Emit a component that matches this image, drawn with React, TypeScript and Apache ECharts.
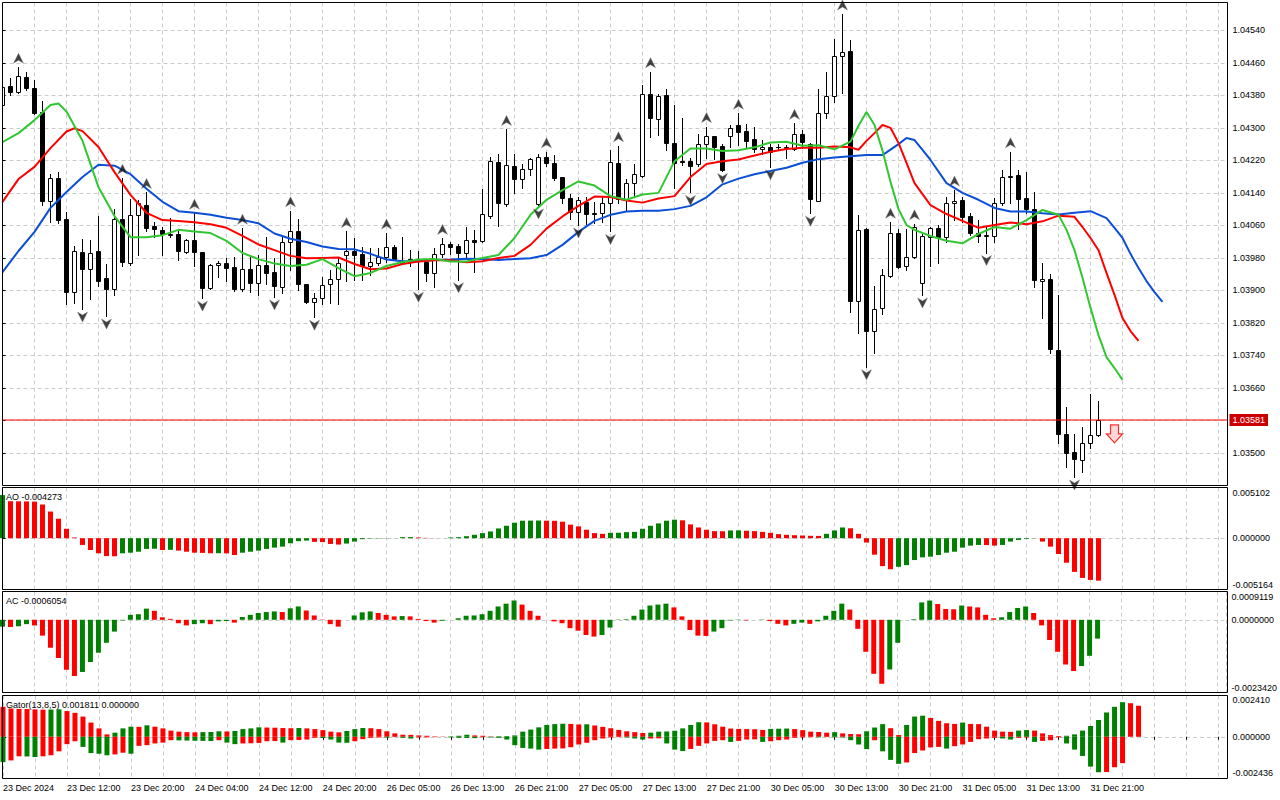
import React, { useEffect, useRef } from 'react';
import * as echarts from 'echarts';

const FONT = '"Liberation Sans", Arial, Helvetica, sans-serif';
const GREEN = '#008000';
const RED = '#ff0000';
const GRID_COLOR = '#cccccc';
const GRID_DASH = [4, 3];

// ---- x axis labels (every 8 hourly bars) ----
const tickLabels = [
  '23 Dec 2024', '23 Dec 12:00', '23 Dec 20:00', '24 Dec 04:00', '24 Dec 12:00', '24 Dec 20:00',
  '26 Dec 05:00', '26 Dec 13:00', '26 Dec 21:00', '27 Dec 05:00', '27 Dec 13:00', '27 Dec 21:00',
  '30 Dec 05:00', '30 Dec 13:00', '30 Dec 21:00', '31 Dec 05:00', '31 Dec 13:00', '31 Dec 21:00',
];

// ---- candles ----
const opens = [
  1.04356, 1.04403, 1.04389, 1.04426, 1.04397, 1.04340, 1.04121, 1.04176, 1.04075, 1.03895,
  1.03995, 1.03952, 1.03997, 1.03930, 1.03903, 1.04075, 1.03968, 1.04086, 1.04110, 1.04059,
  1.04049, 1.04036, 1.04039, 1.03995, 1.04024, 1.03995, 1.03905, 1.03962, 1.03967, 1.03957,
  1.03903, 1.03952, 1.03918, 1.03962, 1.03945, 1.03908, 1.04020, 1.04045, 1.03915, 1.03872,
  1.03881, 1.03915, 1.03927, 1.03986, 1.03998, 1.03990, 1.03961, 1.03968, 1.03983, 1.04008,
  1.03973, 1.03977, 1.03974, 1.03971, 1.03944, 1.03989, 1.04014, 1.04009, 1.03993, 1.04024,
  1.04022, 1.04083, 1.04217, 1.04112, 1.04206, 1.04173, 1.04198, 1.04112, 1.04228, 1.04213,
  1.04178, 1.04127, 1.04092, 1.04118, 1.04091, 1.04090, 1.04114, 1.04213, 1.04125, 1.04164,
  1.04182, 1.04383, 1.04321, 1.04380, 1.04262, 1.04218, 1.04218, 1.04210, 1.04260, 1.04280,
  1.04256, 1.04281, 1.04307, 1.04292, 1.04272, 1.04248, 1.04254, 1.04254, 1.04250, 1.04248,
  1.04284, 1.04260, 1.04121, 1.04336, 1.04379, 1.04477, 1.04489, 1.03875, 1.04051, 1.03801,
  1.03856, 1.03936, 1.04041, 1.03961, 1.03983, 1.03918, 1.04031, 1.04053, 1.04031, 1.04114,
  1.04123, 1.04083, 1.04041, 1.04034, 1.04035, 1.04116, 1.04178, 1.04184, 1.04127, 1.04100,
  1.03923, 1.03927, 1.03754, 1.03546, 1.03502, 1.03483, 1.03524, 1.03544,
];
const highs = [
  1.04410, 1.04422, 1.04449, 1.04438, 1.04418, 1.04366, 1.04186, 1.04192, 1.04094, 1.04009,
  1.04026, 1.04024, 1.04083, 1.03965, 1.04100, 1.04176, 1.04124, 1.04122, 1.04141, 1.04069,
  1.04057, 1.04077, 1.04045, 1.04026, 1.04090, 1.03995, 1.03965, 1.03973, 1.03979, 1.03982,
  1.04053, 1.03983, 1.03987, 1.04031, 1.03979, 1.04031, 1.04096, 1.04076, 1.03916, 1.03893,
  1.03934, 1.03950, 1.03983, 1.04045, 1.04028, 1.04008, 1.04004, 1.04004, 1.04041, 1.04012,
  1.04032, 1.03999, 1.03998, 1.03977, 1.04004, 1.04028, 1.04020, 1.04014, 1.04057, 1.04049,
  1.04149, 1.04228, 1.04235, 1.04296, 1.04235, 1.04210, 1.04225, 1.04235, 1.04241, 1.04233,
  1.04178, 1.04137, 1.04131, 1.04131, 1.04118, 1.04131, 1.04246, 1.04256, 1.04174, 1.04211,
  1.04405, 1.04438, 1.04383, 1.04395, 1.04356, 1.04323, 1.04225, 1.04284, 1.04303, 1.04280,
  1.04260, 1.04307, 1.04336, 1.04309, 1.04303, 1.04270, 1.04260, 1.04260, 1.04258, 1.04311,
  1.04295, 1.04262, 1.04395, 1.04438, 1.04518, 1.04580, 1.04516, 1.04086, 1.04053, 1.03911,
  1.03952, 1.04068, 1.04050, 1.04050, 1.04064, 1.04038, 1.04057, 1.04061, 1.04131, 1.04147,
  1.04131, 1.04091, 1.04073, 1.04057, 1.04127, 1.04196, 1.04241, 1.04196, 1.04192, 1.04141,
  1.03968, 1.03940, 1.03889, 1.03613, 1.03547, 1.03563, 1.03645, 1.03628,
];
const lows = [
  1.04349, 1.04381, 1.04385, 1.04393, 1.04334, 1.04109, 1.04069, 1.04067, 1.03867, 1.03870,
  1.03854, 1.03878, 1.03911, 1.03837, 1.03889, 1.03960, 1.03963, 1.03987, 1.04045, 1.04032,
  1.03987, 1.04031, 1.03975, 1.03991, 1.03960, 1.03881, 1.03903, 1.03934, 1.03922, 1.03899,
  1.03899, 1.03897, 1.03889, 1.03916, 1.03884, 1.03894, 1.03950, 1.03901, 1.03870, 1.03834,
  1.03866, 1.03870, 1.03866, 1.03922, 1.03926, 1.03926, 1.03938, 1.03963, 1.03969, 1.03975,
  1.03966, 1.03960, 1.03903, 1.03922, 1.03909, 1.03983, 1.03989, 1.03926, 1.03979, 1.03946,
  1.04020, 1.04077, 1.04059, 1.04108, 1.04139, 1.04151, 1.04184, 1.04108, 1.04206, 1.04172,
  1.04116, 1.04075, 1.04061, 1.04064, 1.04067, 1.04069, 1.04045, 1.04116, 1.04098, 1.04131,
  1.04180, 1.04278, 1.04282, 1.04246, 1.04151, 1.04209, 1.04141, 1.04206, 1.04225, 1.04223,
  1.04195, 1.04254, 1.04258, 1.04254, 1.04241, 1.04235, 1.04204, 1.04246, 1.04225, 1.04246,
  1.04250, 1.04090, 1.04121, 1.04323, 1.04364, 1.04386, 1.03848, 1.03795, 1.03712, 1.03745,
  1.03842, 1.03934, 1.03954, 1.03949, 1.03979, 1.03889, 1.03960, 1.03967, 1.04020, 1.04073,
  1.04069, 1.04036, 1.04020, 1.03993, 1.04020, 1.04110, 1.04114, 1.04050, 1.04090, 1.03909,
  1.03832, 1.03747, 1.03524, 1.03466, 1.03441, 1.03453, 1.03513, 1.03542,
];
const closes = [
  1.04401, 1.04389, 1.04428, 1.04397, 1.04336, 1.04120, 1.04176, 1.04073, 1.03895, 1.03997,
  1.03952, 1.03991, 1.03924, 1.03904, 1.04075, 1.03971, 1.04086, 1.04114, 1.04054, 1.04052,
  1.04039, 1.04039, 1.03998, 1.04024, 1.03994, 1.03905, 1.03962, 1.03967, 1.03956, 1.03903,
  1.03952, 1.03918, 1.03962, 1.03944, 1.03911, 1.04020, 1.04045, 1.03915, 1.03872, 1.03882,
  1.03913, 1.03927, 1.03967, 1.03998, 1.03987, 1.03960, 1.03969, 1.03983, 1.04008, 1.03977,
  1.03967, 1.03973, 1.03976, 1.03944, 1.03989, 1.04014, 1.04008, 1.03993, 1.04024, 1.04020,
  1.04087, 1.04218, 1.04116, 1.04209, 1.04173, 1.04198, 1.04223, 1.04228, 1.04213, 1.04177,
  1.04127, 1.04094, 1.04122, 1.04087, 1.04087, 1.04114, 1.04215, 1.04125, 1.04164, 1.04187,
  1.04383, 1.04323, 1.04379, 1.04262, 1.04213, 1.04215, 1.04207, 1.04260, 1.04280, 1.04254,
  1.04196, 1.04299, 1.04291, 1.04268, 1.04248, 1.04254, 1.04241, 1.04252, 1.04254, 1.04284,
  1.04264, 1.04124, 1.04336, 1.04379, 1.04477, 1.04487, 1.03875, 1.04049, 1.03799, 1.03854,
  1.03938, 1.04041, 1.03958, 1.03983, 1.04057, 1.04034, 1.04053, 1.04031, 1.04114, 1.04121,
  1.04081, 1.04041, 1.04035, 1.04036, 1.04114, 1.04178, 1.04182, 1.04125, 1.04100, 1.03926,
  1.03927, 1.03755, 1.03546, 1.03499, 1.03485, 1.03524, 1.03544, 1.03581,
];

// ---- Alligator lines: [bar, price] (jaw / teeth / lips, already shifted forward) ----
const jaw: [number, number][] = [
  [0, 1.03945], [2, 1.03997], [4, 1.04044], [6, 1.04103], [8, 1.04142], [10, 1.04179], [12, 1.04209], [14, 1.04207],
  [16, 1.04186], [18, 1.04150], [20, 1.04118], [22, 1.04095], [24, 1.04091], [26, 1.04086], [28, 1.04079], [30, 1.04073],
  [32, 1.04065], [34, 1.04040], [36, 1.04027], [38, 1.04019], [40, 1.04008], [42, 1.04002], [44, 1.04001], [46, 1.03990],
  [48, 1.03976], [50, 1.03972], [52, 1.03972], [54, 1.03975], [56, 1.03976], [58, 1.03978], [60, 1.03977], [62, 1.03975],
  [64, 1.03977], [66, 1.03979], [68, 1.03987], [70, 1.04012], [72, 1.04044], [74, 1.04071], [76, 1.04086], [78, 1.04094],
  [80, 1.04096], [82, 1.04096], [84, 1.04100], [86, 1.04108], [88, 1.04129], [90, 1.04161], [92, 1.04175], [94, 1.04186],
  [96, 1.04194], [98, 1.04202], [100, 1.04214], [102, 1.04223], [104, 1.04227], [106, 1.04230], [108, 1.04233], [110, 1.04233],
  [112, 1.04260], [113, 1.04275], [114, 1.04270], [115, 1.04246], [116, 1.04221], [118, 1.04164], [120, 1.04140], [122, 1.04123],
  [124, 1.04103], [126, 1.04094], [128, 1.04094], [130, 1.04090], [132, 1.04087], [134, 1.04091], [136, 1.04095], [138, 1.04078],
  [139, 1.04054], [140, 1.04029], [141, 1.03990], [142, 1.03955], [143, 1.03923], [144, 1.03896], [145, 1.03872],
];
const teeth: [number, number][] = [
  [0, 1.04118], [2, 1.04174], [4, 1.04204], [6, 1.04250], [8, 1.04291], [9, 1.04299], [10, 1.04292], [12, 1.04253],
  [14, 1.04191], [16, 1.04135], [18, 1.04091], [20, 1.04073], [22, 1.04071], [24, 1.04068], [26, 1.04063], [28, 1.04054],
  [30, 1.04034], [32, 1.04013], [34, 1.03999], [36, 1.03985], [38, 1.03979], [40, 1.03980], [42, 1.03981], [44, 1.03965],
  [46, 1.03952], [48, 1.03954], [50, 1.03965], [52, 1.03971], [54, 1.03974], [56, 1.03974], [58, 1.03969], [60, 1.03972],
  [62, 1.03980], [64, 1.03985], [66, 1.04012], [68, 1.04052], [70, 1.04082], [72, 1.04108], [74, 1.04131], [76, 1.04130],
  [78, 1.04121], [80, 1.04116], [82, 1.04126], [84, 1.04132], [86, 1.04179], [88, 1.04211], [90, 1.04218], [92, 1.04222],
  [94, 1.04232], [96, 1.04241], [98, 1.04248], [100, 1.04251], [102, 1.04251], [104, 1.04254], [106, 1.04252], [107, 1.04246],
  [108, 1.04268], [109, 1.04287], [110, 1.04307], [111, 1.04300], [112, 1.04263], [113, 1.04214], [114, 1.04164], [116, 1.04110],
  [118, 1.04088], [120, 1.04071], [122, 1.04054], [124, 1.04061], [126, 1.04067], [128, 1.04063], [130, 1.04070], [132, 1.04084],
  [134, 1.04081], [135, 1.04056], [136, 1.04029], [137, 1.03999], [138, 1.03943], [139, 1.03889], [140, 1.03832], [141, 1.03800],
  [142, 1.03776],
];
const lips: [number, number][] = [
  [0, 1.04265], [2, 1.04287], [4, 1.04319], [6, 1.04356], [7, 1.04360], [8, 1.04340], [10, 1.04268], [12, 1.04154],
  [14, 1.04083], [16, 1.04031], [18, 1.04031], [20, 1.04036], [22, 1.04049], [24, 1.04045], [26, 1.04041], [28, 1.04022],
  [30, 1.03992], [32, 1.03977], [34, 1.03966], [36, 1.03960], [38, 1.03963], [40, 1.03977], [42, 1.03955], [44, 1.03935],
  [46, 1.03943], [48, 1.03960], [50, 1.03970], [52, 1.03976], [54, 1.03977], [56, 1.03971], [58, 1.03971], [60, 1.03980],
  [62, 1.03987], [64, 1.04029], [66, 1.04086], [68, 1.04123], [70, 1.04147], [72, 1.04168], [74, 1.04158], [76, 1.04132],
  [78, 1.04123], [80, 1.04136], [82, 1.04140], [84, 1.04218], [86, 1.04249], [88, 1.04249], [90, 1.04243], [92, 1.04245],
  [94, 1.04252], [96, 1.04264], [98, 1.04266], [100, 1.04256], [102, 1.04257], [104, 1.04247], [106, 1.04266], [107, 1.04305],
  [108, 1.04339], [109, 1.04307], [110, 1.04244], [111, 1.04167], [112, 1.04100], [113, 1.04061], [114, 1.04049], [116, 1.04034],
  [118, 1.04022], [120, 1.04016], [122, 1.04039], [124, 1.04056], [126, 1.04052], [128, 1.04073], [130, 1.04098], [132, 1.04086],
  [133, 1.04049], [134, 1.03999], [135, 1.03931], [136, 1.03857], [137, 1.03790], [138, 1.03736], [139, 1.03709], [140, 1.03680],
];

// ---- Fractals (bar indices) ----
const fractalUpBars = [2, 15, 18, 24, 30, 36, 43, 48, 55, 63, 68, 77, 81, 88, 92, 99, 105, 111, 114, 119, 126];
const fractalDownBars = [10, 13, 25, 34, 39, 52, 57, 67, 72, 76, 86, 90, 96, 101, 108, 115, 123, 134];

// ---- sell signal arrow ----
const sellSignal: [number, number] = [139, 1.03547];

// ---- Awesome Oscillator ----
const aoValues = [
  0.00434, 0.00372, 0.00371, 0.00370, 0.00368, 0.00339, 0.00268, 0.00196, 0.00095, 0.00007,
  -0.00068, -0.00119, -0.00152, -0.00180, -0.00182, -0.00152, -0.00146, -0.00136, -0.00108, -0.00106,
  -0.00119, -0.00117, -0.00125, -0.00136, -0.00146, -0.00148, -0.00152, -0.00151, -0.00153, -0.00169,
  -0.00146, -0.00136, -0.00125, -0.00108, -0.00095, -0.00085, -0.00051, -0.00030, -0.00024, -0.00037,
  -0.00039, -0.00058, -0.00064, -0.00054, -0.00034, -0.00010, -0.00004, -0.00003, -0.00002, 0.00001,
  0.00010, 0.00011, 0.00007, 0.00003, 0.00001, 0.00000, 0.00007, 0.00010, 0.00020, 0.00034,
  0.00051, 0.00068, 0.00098, 0.00125, 0.00156, 0.00176, 0.00177, 0.00178, 0.00176, 0.00175,
  0.00166, 0.00136, 0.00119, 0.00085, 0.00051, 0.00044, 0.00054, 0.00055, 0.00061, 0.00064,
  0.00095, 0.00125, 0.00149, 0.00176, 0.00186, 0.00180, 0.00139, 0.00108, 0.00085, 0.00071,
  0.00070, 0.00078, 0.00079, 0.00075, 0.00071, 0.00064, 0.00054, 0.00041, 0.00034, 0.00030,
  0.00027, 0.00024, 0.00023, 0.00044, 0.00078, 0.00108, 0.00100, 0.00044, -0.00044, -0.00166,
  -0.00281, -0.00312, -0.00288, -0.00271, -0.00220, -0.00193, -0.00186, -0.00169, -0.00146, -0.00136,
  -0.00095, -0.00075, -0.00068, -0.00069, -0.00075, -0.00068, -0.00034, -0.00017, -0.00007, -0.00002,
  -0.00034, -0.00085, -0.00159, -0.00247, -0.00339, -0.00400, -0.00420, -0.004273,
];

// ---- Accelerator Oscillator ----
const acValues = [
  -0.00022, -0.00023, -0.00021, -0.00014, -0.00018, -0.00051, -0.00090, -0.00123, -0.00161, -0.00181,
  -0.00168, -0.00136, -0.00106, -0.00074, -0.00038, -0.00002, 0.00016, 0.00018, 0.00036, 0.00029,
  0.00008, 0.00003, -0.00011, -0.00018, -0.00014, -0.00011, -0.00014, -0.00005, -0.00004, -0.00009,
  0.00009, 0.00016, 0.00022, 0.00025, 0.00027, 0.00025, 0.00037, 0.00043, 0.00030, 0.00014,
  0.00001, -0.00014, -0.00022, 0.00000, 0.00014, 0.00024, 0.00027, 0.00022, 0.00016, 0.00011,
  0.00012, 0.00011, 0.00003, -0.00004, -0.00009, -0.00003, 0.00000, 0.00005, 0.00013, 0.00014,
  0.00018, 0.00029, 0.00043, 0.00052, 0.00062, 0.00049, 0.00029, 0.00013, 0.00000, -0.00005,
  -0.00011, -0.00027, -0.00035, -0.00049, -0.00054, -0.00049, -0.00025, 0.00001, 0.00002, 0.00013,
  0.00033, 0.00046, 0.00049, 0.00052, 0.00040, 0.00011, -0.00033, -0.00051, -0.00052, -0.00038,
  -0.00027, -0.00002, 0.00001, -0.00002, 0.00000, 0.00001, -0.00004, -0.00013, -0.00018, -0.00013,
  -0.00009, -0.00013, -0.00005, 0.00013, 0.00029, 0.00052, 0.00033, -0.00029, -0.00103, -0.00174,
  -0.00206, -0.00160, -0.00074, 0.00000, 0.00002, 0.00056, 0.00062, 0.00051, 0.00035, 0.00034,
  0.00046, 0.00043, 0.00040, 0.00016, 0.00005, 0.00008, 0.00025, 0.00038, 0.00043, 0.00022,
  -0.00018, -0.00065, -0.00103, -0.00144, -0.00165, -0.00149, -0.00116, -0.0006054,
];

// ---- Gator oscillator (upper |jaw-teeth|, lower |teeth-lips|) ----
const gatorUpper = [
  0.00175, 0.00165, 0.00163, 0.00162, 0.00160, 0.00158, 0.00159, 0.00160, 0.00150, 0.00140,
  0.00118, 0.00083, 0.00049, 0.00014, 0.00024, 0.00049, 0.00059, 0.00058, 0.00067, 0.00059,
  0.00049, 0.00036, 0.00030, 0.00027, 0.00026, 0.00027, 0.00028, 0.00032, 0.00031, 0.00034,
  0.00045, 0.00049, 0.00055, 0.00054, 0.00053, 0.00051, 0.00050, 0.00051, 0.00049, 0.00045,
  0.00039, 0.00030, 0.00026, 0.00034, 0.00045, 0.00051, 0.00050, 0.00045, 0.00032, 0.00020,
  0.00012, 0.00011, 0.00008, 0.00006, 0.00002, 0.00001, 0.00002, 0.00006, 0.00012, 0.00008,
  0.00006, 0.00002, 0.00003, 0.00004, 0.00008, 0.00030, 0.00042, 0.00055, 0.00069, 0.00074,
  0.00076, 0.00075, 0.00072, 0.00073, 0.00066, 0.00058, 0.00050, 0.00040, 0.00032, 0.00027,
  0.00022, 0.00024, 0.00030, 0.00031, 0.00035, 0.00049, 0.00069, 0.00085, 0.00084, 0.00073,
  0.00059, 0.00048, 0.00046, 0.00045, 0.00044, 0.00040, 0.00046, 0.00047, 0.00048, 0.00045,
  0.00039, 0.00030, 0.00028, 0.00024, 0.00027, 0.00020, 0.00016, 0.00015, 0.00032, 0.00054,
  0.00074, 0.00050, 0.00010, 0.00069, 0.00118, 0.00123, 0.00110, 0.00093, 0.00079, 0.00075,
  0.00083, 0.00075, 0.00074, 0.00059, 0.00036, 0.00030, 0.00029, 0.00036, 0.00039, 0.00036,
  0.00020, 0.00010, 0.00004, 0.00006, 0.00014, 0.00036, 0.00063, 0.00098, 0.00142, 0.00175,
  0.00202, 0.00196, 0.001811,
];
const gatorLower = [
  0.00148, 0.00138, 0.00114, 0.00115, 0.00118, 0.00114, 0.00108, 0.00085, 0.00043, 0.00026,
  0.00059, 0.00095, 0.00099, 0.00108, 0.00103, 0.00093, 0.00099, 0.00053, 0.00049, 0.00039,
  0.00034, 0.00020, 0.00021, 0.00022, 0.00023, 0.00024, 0.00025, 0.00020, 0.00034, 0.00043,
  0.00039, 0.00038, 0.00036, 0.00026, 0.00025, 0.00034, 0.00020, 0.00019, 0.00016, 0.00006,
  0.00007, 0.00016, 0.00034, 0.00035, 0.00026, 0.00014, 0.00006, 0.00004, 0.00005, 0.00002,
  0.00006, 0.00010, 0.00004, 0.00003, 0.00002, 0.00001, 0.00004, 0.00006, 0.00007, 0.00008,
  0.00002, 0.00004, 0.00006, 0.00016, 0.00049, 0.00065, 0.00069, 0.00075, 0.00071, 0.00069,
  0.00068, 0.00061, 0.00045, 0.00035, 0.00020, 0.00010, 0.00004, 0.00002, 0.00004, 0.00010,
  0.00016, 0.00010, 0.00009, 0.00039, 0.00075, 0.00083, 0.00071, 0.00053, 0.00039, 0.00024,
  0.00020, 0.00030, 0.00024, 0.00016, 0.00015, 0.00030, 0.00026, 0.00020, 0.00016, 0.00006,
  0.00004, 0.00002, 0.00003, 0.00002, 0.00003, 0.00004, 0.00020, 0.00045, 0.00072, 0.00020,
  0.00085, 0.00135, 0.00158, 0.00150, 0.00095, 0.00080, 0.00062, 0.00059, 0.00069, 0.00055,
  0.00045, 0.00030, 0.00014, 0.00010, 0.00006, 0.00010, 0.00016, 0.00006, 0.00004, 0.00030,
  0.00024, 0.00020, 0.00004, 0.00039, 0.00075, 0.00112, 0.00174, 0.00207, 0.00206, 0.00178,
  0.00154,
];
const gatorCurrentLower = 0;

// ---- axis ranges ----
const X_MAX = 153.125;
const PRICE_MIN = 1.0342;
const PRICE_MAX = 1.046084;
const PRICE_STEP = 0.0008;
const AO_RANGE: [number, number] = [-0.005164, 0.005102];
const AC_RANGE: [number, number] = [-0.002342, 0.0009119];
const GATOR_RANGE: [number, number] = [-0.002436, 0.00241];

// ---- layout ----
const LEFT = 2.5;
const WIDTH = 1225;
const panels = [
  { top: 2.5, height: 483 },
  { top: 487.5, height: 102 },
  { top: 591.5, height: 101 },
  { top: 695.5, height: 83 },
];

function histColors(vals: number[], firstUp: boolean): string[] {
  let up = firstUp;
  return vals.map((v, i) => {
    if (i > 0) {
      if (v > vals[i - 1]) up = true;
      else if (v < vals[i - 1]) up = false;
    }
    return up ? GREEN : RED;
  });
}

function barData(vals: number[], colors: string[], sign = 1) {
  return vals.map((v, i) => ({ value: [i, sign * v], itemStyle: { color: colors[i] } }));
}

function subAxis(gridIndex: number, range: [number, number], digits: number, padTop: number, padBot: number) {
  const [min, max] = range;
  return {
    type: 'value',
    gridIndex,
    position: 'right',
    min,
    max,
    interval: -min,
    axisLine: { show: false },
    axisTick: { show: true, length: 3, lineStyle: { color: '#000' } },
    splitLine: { show: true, lineStyle: { color: GRID_COLOR, type: GRID_DASH, width: 1 } },
    axisLabel: {
      margin: 5,
      color: '#000',
      fontSize: 9,
      fontFamily: FONT,
      formatter: (v: number) => {
        const t = (Math.abs(v) < 1e-12 ? 0 : v).toFixed(digits);
        if (Math.abs(v - max) < 1e-10) return `{t|${t}}`;
        if (Math.abs(v - min) < 1e-10) return `{b|${t}}`;
        return t;
      },
      rich: {
        t: { padding: [padTop, 0, 0, 0], fontSize: 9, fontFamily: FONT, color: '#000' },
        b: { padding: [0, 0, padBot, 0], fontSize: 9, fontFamily: FONT, color: '#000' },
      },
    },
  };
}

function buildOption() {
  const lastClose = closes[closes.length - 1];
  const candleData = opens.map((o, i) => [i, o, closes[i], lows[i], highs[i]]);

  const xAxes = panels.map((_, i) => ({
    type: 'value',
    gridIndex: i,
    min: 0,
    max: X_MAX,
    interval: 4,
    axisLine: { show: false },
    axisTick: { show: i === 3, length: 3, lineStyle: { color: '#000' } },
    axisLabel:
      i === 3
        ? {
            show: true,
            align: 'left',
            margin: 5,
            color: '#000',
            fontSize: 9,
            fontFamily: FONT,
            formatter: (v: number) => (v % 8 === 0 && tickLabels[v / 8]) || '',
          }
        : { show: false },
    splitLine: { show: true, lineStyle: { color: GRID_COLOR, type: GRID_DASH, width: 1 } },
  }));

  const yAxes = [
    {
      type: 'value',
      gridIndex: 0,
      position: 'right',
      min: PRICE_MIN,
      max: PRICE_MAX,
      interval: PRICE_STEP,
      axisLine: { show: false },
      axisTick: { show: true, length: 3, lineStyle: { color: '#000' } },
      splitLine: { show: true, lineStyle: { color: GRID_COLOR, type: GRID_DASH, width: 1 } },
      axisLabel: {
        margin: 5,
        color: '#000',
        fontSize: 9,
        fontFamily: FONT,
        showMinLabel: false,
        showMaxLabel: false,
        formatter: (v: number) => (Math.abs(v - lastClose) < 0.00025 ? '' : v.toFixed(5)),
      },
    },
    subAxis(1, AO_RANGE, 6, 11, 9),
    subAxis(2, AC_RANGE, 7, 10, 10),
    subAxis(3, GATOR_RANGE, 6, 9, 11),
  ];

  const lineSeries = (name: string, data: [number, number][], color: string, extra: any = {}) => ({
    name,
    type: 'line',
    xAxisIndex: 0,
    yAxisIndex: 0,
    data,
    showSymbol: false,
    symbol: 'none',
    smooth: false,
    clip: true,
    z: 4,
    lineStyle: { color, width: 2 },
    ...extra,
  });

  const aoColors = histColors(aoValues, true);
  const acColors = histColors(acValues, true);
  const guColors = histColors(gatorUpper, false);
  const glColors = histColors(gatorLower, true);

  const frames = panels.map((p) => ({
    type: 'rect',
    z: 100,
    silent: true,
    shape: { x: LEFT, y: p.top, width: WIDTH, height: p.height },
    style: { fill: 'none', stroke: '#000', lineWidth: 1 },
  }));

  const label = (text: string, y: number) => ({
    type: 'text',
    z: 101,
    silent: true,
    x: 6,
    y,
    style: { text, fontSize: 9, fontFamily: FONT, fill: '#000', verticalAlign: 'middle', align: 'left' },
  });

  return {
    animation: false,
    backgroundColor: '#ffffff',
    textStyle: { fontFamily: FONT, fontSize: 9, color: '#000' },
    grid: panels.map((p) => ({ left: LEFT, top: p.top, width: WIDTH, height: p.height, show: false })),
    xAxis: xAxes,
    yAxis: yAxes,
    graphic: [
      ...frames,
      label(`AO ${aoValues[aoValues.length - 1].toFixed(6)}`, 496.5),
      label(`AC ${acValues[acValues.length - 1].toFixed(7)}`, 601),
      label(
        `Gator(13,8,5) ${gatorUpper[gatorUpper.length - 1].toFixed(6)} ${gatorCurrentLower.toFixed(6)}`,
        704.5,
      ),
    ],
    series: [
      {
        name: 'candles',
        type: 'custom',
        xAxisIndex: 0,
        yAxisIndex: 0,
        clip: true,
        z: 3,
        data: candleData,
        encode: { x: 0, y: [1, 2, 3, 4] },
        renderItem: (params: any, api: any) => {
          const i = api.value(0);
          const o = api.value(1);
          const c = api.value(2);
          const l = api.value(3);
          const h = api.value(4);
          const po = api.coord([i, o]);
          const pc = api.coord([i, c]);
          const pl = api.coord([i, l]);
          const ph = api.coord([i, h]);
          const cx = Math.floor(po[0] + 0.01) + 0.5;
          const yTop = Math.round(Math.min(po[1], pc[1])) + 0.5;
          const yBot = Math.round(Math.max(po[1], pc[1])) + 0.5;
          const children: any[] = [
            {
              type: 'line',
              shape: { x1: cx, y1: Math.round(ph[1]), x2: cx, y2: Math.round(pl[1]) + 1 },
              style: { stroke: '#000', lineWidth: 1 },
            },
          ];
          if (yBot - yTop < 1) {
            children.push({
              type: 'line',
              shape: { x1: cx - 2.5, y1: yTop, x2: cx + 2.5, y2: yTop },
              style: { stroke: '#000', lineWidth: 1 },
            });
          } else {
            children.push({
              type: 'rect',
              shape: { x: cx - 2, y: yTop, width: 4, height: yBot - yTop },
              style: { fill: c >= o ? '#ffffff' : '#000000', stroke: '#000', lineWidth: 1 },
            });
          }
          return { type: 'group', children };
        },
      },
      // current price line, drawn through the price scale with its value label at the axis
      {
        name: 'lastPrice',
        type: 'line',
        xAxisIndex: 0,
        yAxisIndex: 0,
        data: [
          [0, lastClose],
          [X_MAX, lastClose],
        ],
        showSymbol: false,
        symbol: 'none',
        clip: false,
        z: 3,
        lineStyle: { color: '#ff0000', width: 1.1 },
        endLabel: {
          show: true,
          distance: 2,
          formatter: () => lastClose.toFixed(5),
          color: '#ffffff',
          backgroundColor: '#cc0000',
          padding: [2, 3, 1, 3],
          fontSize: 9,
          fontFamily: FONT,
        },
      },
      lineSeries('jaw', jaw, '#0b4fd6'),
      lineSeries('teeth', teeth, '#ff0000'),
      lineSeries('lips', lips, '#33c633'),
      {
        name: 'fractalUp',
        type: 'scatter',
        xAxisIndex: 0,
        yAxisIndex: 0,
        z: 5,
        symbol: 'path://M5 0 L10 10 L5 7 L0 10 Z',
        symbolSize: [10, 10],
        symbolOffset: [0, -9],
        itemStyle: { color: '#111111', borderColor: '#777777', borderWidth: 0.5 },
        data: fractalUpBars.map((i) => [i, highs[i]]),
      },
      {
        name: 'fractalDown',
        type: 'scatter',
        xAxisIndex: 0,
        yAxisIndex: 0,
        z: 5,
        symbol: 'path://M0 0 L5 3 L10 0 L5 10 Z',
        symbolSize: [10, 10],
        symbolOffset: [0, 8],
        itemStyle: { color: '#111111', borderColor: '#777777', borderWidth: 0.5 },
        data: fractalDownBars.map((i) => [i, lows[i]]),
      },
      {
        name: 'sell',
        type: 'scatter',
        xAxisIndex: 0,
        yAxisIndex: 0,
        z: 6,
        symbol: 'path://M4 0 L12 0 L12 9 L16 9 L8 18 L0 9 L4 9 Z',
        symbolSize: [16, 18],
        itemStyle: { color: '#ffd0d0', borderColor: '#ff0000', borderWidth: 1.3 },
        data: [sellSignal],
      },
      {
        name: 'AO',
        type: 'bar',
        xAxisIndex: 1,
        yAxisIndex: 1,
        barWidth: 5,
        data: barData(aoValues, aoColors),
      },
      {
        name: 'AC',
        type: 'bar',
        xAxisIndex: 2,
        yAxisIndex: 2,
        barWidth: 5,
        data: barData(acValues, acColors),
      },
      {
        name: 'GatorUp',
        type: 'bar',
        xAxisIndex: 3,
        yAxisIndex: 3,
        barWidth: 5,
        barGap: '-100%',
        data: barData(gatorUpper, guColors),
      },
      {
        name: 'GatorDown',
        type: 'bar',
        xAxisIndex: 3,
        yAxisIndex: 3,
        barWidth: 5,
        barGap: '-100%',
        data: barData(gatorLower, glColors, -1),
      },
    ],
  };
}

export default function App() {
  const ref = useRef<HTMLDivElement>(null);
  useEffect(() => {
    if (!ref.current) return;
    const chart = echarts.init(ref.current, null, { renderer: 'svg' });
    chart.setOption(buildOption() as any);
    return () => chart.dispose();
  }, []);
  return (
    <div
      ref={ref}
      style={{ position: 'fixed', left: 0, top: 0, width: 1280, height: 800, background: '#ffffff' }}
    />
  );
}
